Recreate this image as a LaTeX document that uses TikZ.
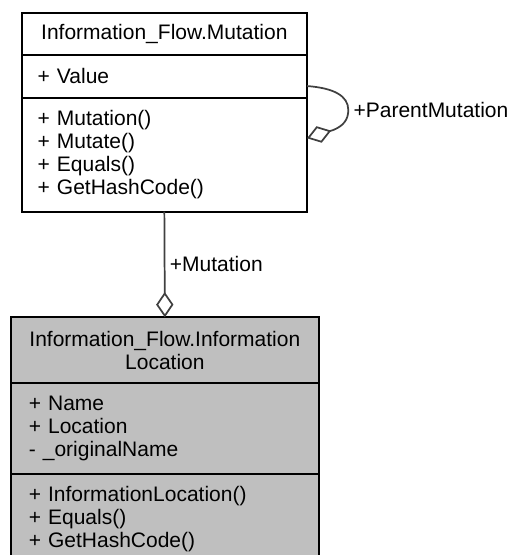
\documentclass[tikz,border=0pt]{standalone}
\usepackage{fontspec}
\setmainfont{Liberation Sans}
\usetikzlibrary{positioning,arrows.meta}
\definecolor{edgegrey}{HTML}{404040}
\definecolor{classgrey}{HTML}{BFBFBF}

\begin{document}
\begin{tikzpicture}[x=0.75pt,y=-0.75pt,
  font=\fontsize{15.75}{17.25}\selectfont,
  part/.style={draw=black,line width=1.5pt,outer sep=0pt,inner xsep=12pt,inner ysep=2pt,align=left},
  toppart/.style={part,text width=190pt},
  lowpart/.style={part,fill=classgrey,text width=204pt,inner xsep=13.5pt},
  aggr/.style={draw=edgegrey,line width=1.3pt,-{Diamond[open,length=19pt,width=13pt]}}]
\useasboundingbox (0,0) rectangle (515,555);

% Mutation class
\node[toppart,align=center,minimum height=31.3pt] (mutTitle) at (164.35,34.15) {Information\_Flow.Mutation};
\node[toppart,minimum height=32pt,below=0pt of mutTitle] (mutAttr) {+ Value};
\node[toppart,minimum height=85.5pt,below=0pt of mutAttr] (mutMeth) {+ Mutation()\\+ Mutate()\\+ Equals()\\+ GetHashCode()};

% InformationLocation class
\node[lowpart,align=center,minimum height=49.5pt] (locTitle) at (164.85,350.3) {Information\_Flow.Information\\Location};
\node[lowpart,minimum height=68pt,below=0pt of locTitle] (locAttr) {+ Name\\+ Location\\- \_originalName};
\node[lowpart,minimum height=68pt,below=0pt of locAttr] (locMeth) {+ InformationLocation()\\+ Equals()\\+ GetHashCode()};

% aggregations
\draw[aggr] (mutMeth.south) -- (locTitle.north) node[midway,right] {+Mutation};
\coordinate (loopOut) at ([shift={(0,9.7)}]mutAttr.east);
\coordinate (loopIn) at ([shift={(0,-16.4)}]mutMeth.east);
\draw[aggr] (loopOut) .. controls (334,88) and (348.3,96) .. (348.3,110)
  node[right] {+ParentMutation}
  .. controls (348.3,120) and (343,126) .. (333.3,130) -- (loopIn);
\end{tikzpicture}
\end{document}
